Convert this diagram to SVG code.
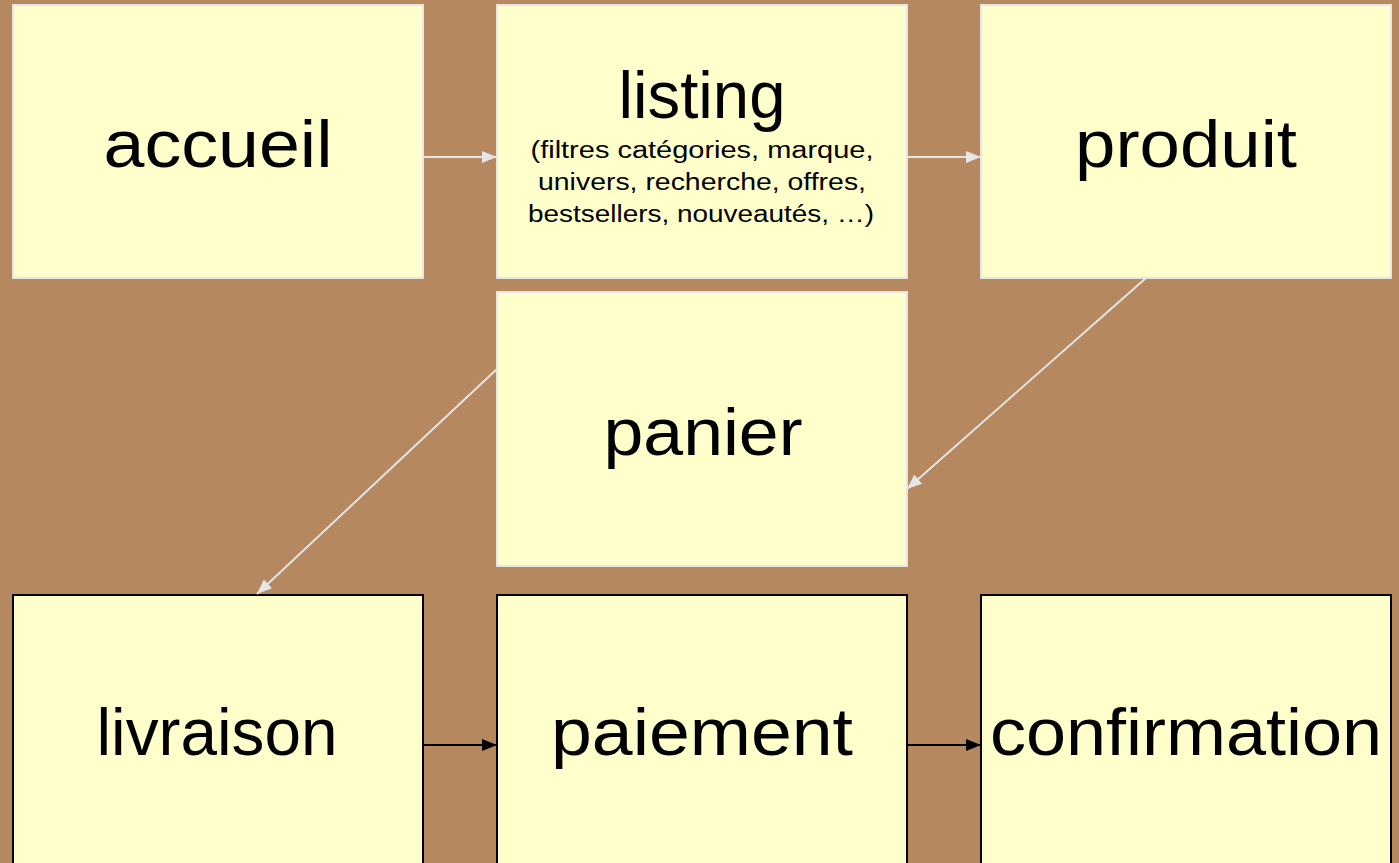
<svg xmlns="http://www.w3.org/2000/svg" width="1399" height="863" viewBox="0 0 1399 863">
<style>
.bg{fill:#B5885F}
.top{fill:#FFFFCC;stroke:#E6E6E6;stroke-width:2}
.bot{fill:#FFFFCC;stroke:#000;stroke-width:2}
.t{font-family:"Liberation Sans","DejaVu Sans",sans-serif;fill:#000;text-anchor:middle}
.big{font-size:66px}
.small{font-size:23px}
.cl{stroke:#E6E6E6;stroke-width:2;fill:none}
.cd{stroke:#000;stroke-width:2;fill:none}
</style>
<defs>
<marker id="aL" markerWidth="16" markerHeight="12" refX="15" refY="6" orient="auto" markerUnits="userSpaceOnUse"><path d="M0,0 L15,6 L0,12 z" fill="#E6E6E6"/></marker>
<marker id="aD" markerWidth="16" markerHeight="12" refX="15" refY="6" orient="auto" markerUnits="userSpaceOnUse"><path d="M0,0 L15,6 L0,12 z" fill="#000"/></marker>
</defs>
<rect class="bg" x="0" y="0" width="1399" height="863"/>
<g id="accueil"><rect class="top" x="13" y="5" width="410" height="273"/><text class="t big" x="218" y="167" textLength="229" lengthAdjust="spacingAndGlyphs">accueil</text></g>
<g id="listing"><rect class="top" x="497" y="5" width="410" height="273"/><text class="t big" x="702" y="118" textLength="167" lengthAdjust="spacingAndGlyphs">listing</text>
<text class="t small" x="702" y="158" textLength="343" lengthAdjust="spacingAndGlyphs">(filtres catégories, marque,</text>
<text class="t small" x="702" y="190" textLength="328" lengthAdjust="spacingAndGlyphs">univers, recherche, offres,</text>
<text class="t small" x="701" y="222" textLength="346" lengthAdjust="spacingAndGlyphs">bestsellers, nouveautés, …)</text></g>
<g id="produit"><rect class="top" x="981" y="5" width="410" height="273"/><text class="t big" x="1186" y="167" textLength="222" lengthAdjust="spacingAndGlyphs">produit</text></g>
<g id="panier"><rect class="top" x="497" y="292" width="410" height="274"/><text class="t big" x="703" y="455" textLength="199" lengthAdjust="spacingAndGlyphs">panier</text></g>
<g id="livraison"><rect class="bot" x="13" y="595" width="410" height="280"/><text class="t big" x="217" y="755" textLength="241" lengthAdjust="spacingAndGlyphs">livraison</text></g>
<g id="paiement"><rect class="bot" x="497" y="595" width="410" height="280"/><text class="t big" x="702" y="755" textLength="302" lengthAdjust="spacingAndGlyphs">paiement</text></g>
<g id="confirmation"><rect class="bot" x="981" y="595" width="410" height="280"/><text class="t big" x="1186" y="755" textLength="392" lengthAdjust="spacingAndGlyphs">confirmation</text></g>
<g id="connectors">
<line class="cl" x1="423" y1="157" x2="497" y2="157" marker-end="url(#aL)"/>
<line class="cl" x1="907" y1="157" x2="981" y2="157" marker-end="url(#aL)"/>
<line class="cl" x1="1146" y1="278" x2="907" y2="489" marker-end="url(#aL)"/>
<line class="cl" x1="497" y1="369" x2="257" y2="594" marker-end="url(#aL)"/>
<line class="cd" x1="423" y1="745" x2="497" y2="745" marker-end="url(#aD)"/>
<line class="cd" x1="907" y1="745" x2="981" y2="745" marker-end="url(#aD)"/>
</g>
</svg>
